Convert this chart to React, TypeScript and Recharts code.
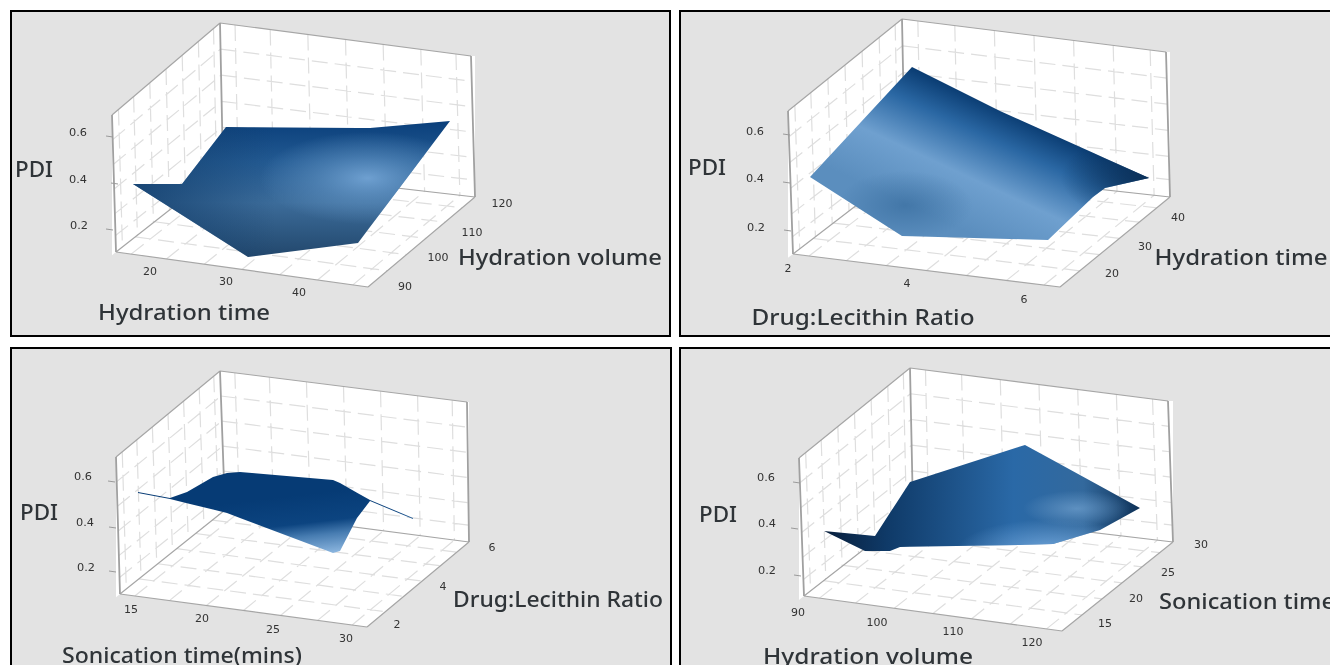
import React from "react";
import { ComposedChart, XAxis, YAxis, Area, Line, Scatter } from "recharts";

type P = [number, number];
type Lab = [string, number, number];
type Title = [string, number, number, number];

// ---------- Panel 1 : Hydration time / Hydration volume ----------
const p1Surface_top: P[] = [[133,184],[182,184],[226,127],[370,128],[450,121]];
const p1Surface_bottom: P[] = [[133,184],[248,257],[358,243],[450,121]];
const p1Corners: P[] = [[112,115],[220,23],[471,56],[116,252],[223,168],[475,197],[368,287]];
const p1Ticks: P[] = [[110,137],[115,184],[110,230]];
const p1Numbers: Lab[] = [["0.6",78,132],["0.4",78,179],["0.2",79,225],["20",150,271],["30",226,281],["40",299,292],["90",405,286],["100",438,257],["110",472,232],["120",502,203]];
const p1Titles: Title[] = [["PDI",34,168,38],["Hydration time",184,311,172],["Hydration volume",560,256,204]];

// ---------- Panel 2 : Drug:Lecithin Ratio / Hydration time ----------
const p2Surface_top: P[] = [[810,177],[912,67],[1000,111],[1149,178]];
const p2Surface_bottom: P[] = [[810,177],[902,236],[1048,240],[1093,197],[1105,188],[1149,178]];
const p2Corners: P[] = [[788,111],[902,19],[1166,52],[793,254],[905,168],[1170,197],[1060,287]];
const p2Ticks: P[] = [[787,135],[787,183],[788,231]];
const p2Numbers: Lab[] = [["0.6",755,131],["0.4",755,178],["0.2",756,227],["2",788,268],["4",907,283],["6",1024,299],["20",1112,273],["30",1145,246],["40",1178,217]];
const p2Titles: Title[] = [["PDI",707,166,38],["Drug:Lecithin Ratio",863,316,223],["Hydration time",1241,256,173]];

// ---------- Panel 3 : Sonication time / Drug:Lecithin Ratio ----------
const p3Surface_top: P[] = [[138,492],[170,498],[187,492],[213,477],[227,473],[240,472],[333,480],[340,483],[370,500],[413,518]];
const p3Surface_bottom: P[] = [[138,493],[170,499],[227,513],[333,553],[340,551],[357,518],[370,501],[413,519]];
const p3Corners: P[] = [[116,457],[220,371],[467,402],[120,594],[225,510],[469,542],[367,627]];
const p3Ticks: P[] = [[112,482],[113,528],[113,572]];
const p3Numbers: Lab[] = [["0.6",83,476],["0.4",85,522],["0.2",86,567],["15",131,609],["20",202,618],["25",273,629],["30",346,638],["2",397,624],["4",443,586],["6",492,547]];
const p3Titles: Title[] = [["PDI",39,511,38],["Sonication time(mins)",182,654,240],["Drug:Lecithin Ratio",558,598,210]];

// ---------- Panel 4 : Hydration volume / Sonication time ----------
const p4Surface_top: P[] = [[824,531],[875,536],[910,482],[1025,445],[1140,508]];
const p4Surface_bottom: P[] = [[824,531],[865,551],[890,551],[900,547],[1020,545],[1053,544],[1100,530],[1140,508]];
const p4Corners: P[] = [[799,458],[910,368],[1168,401],[804,596],[913,511],[1173,542],[1062,631]];
const p4Ticks: P[] = [[797,483],[795,529],[798,576]];
const p4Numbers: Lab[] = [["0.6",766,477],["0.4",767,523],["0.2",767,570],["90",798,612],["100",877,622],["110",953,631],["120",1032,642],["15",1105,623],["20",1136,598],["25",1168,572],["30",1201,544]];
const p4Titles: Title[] = [["PDI",718,513,38],["Hydration volume",868,655,210],["Sonication time",1247,600,176]];

const gridAcross = [0.06, 0.2, 0.35, 0.5, 0.65, 0.8, 0.94];
const gridUp = [0.18, 0.36, 0.54, 0.72, 0.88];

type Stop = [number, string, number?];
type Grad = { kind: "l" | "r"; a: number[]; stops: Stop[] };

const p1Shade: Grad[] = [
  { kind: "l", a: [0, 0, 0, 1], stops: [[0, "#0a3f7b"], [0.3, "#235a92"], [0.6, "#3c6c9a"], [1, "#22476c"]] },
  { kind: "l", a: [0, 0, 0.45, 0], stops: [[0, "#14406e", 0.85], [1, "#14406e", 0]] },
  { kind: "r", a: [0.74, 0.42, 0.34], stops: [[0, "#7aabdb", 0.85], [0.5, "#6a9ccc", 0.45], [1, "#6a9ccc", 0]] },
];
const p2Shade: Grad[] = [
  { kind: "l", a: [0.65, 0.32, 0.25, 0.76], stops: [[0, "#0a3c72"], [0.25, "#2a67a3"], [0.6, "#6fa0cf"], [1, "#5b8ebe"]] },
  { kind: "r", a: [1, 0.64, 0.26], stops: [[0, "#0c3159", 1], [1, "#0c3159", 0]] },
  { kind: "r", a: [0.28, 0.8, 0.2], stops: [[0, "#2f6496", 0.55], [1, "#2f6496", 0]] },
];
const p3Shade: Grad[] = [
  { kind: "l", a: [0.55, 0.3, 0.82, 0.98], stops: [[0, "#063b75"], [0.45, "#0c4480"], [0.66, "#477cb1"], [1, "#93bce4"]] },
];
const p4Shade: Grad[] = [
  { kind: "l", a: [0, 0, 1, 0], stops: [[0, "#081f3c"], [0.2, "#0f3a68"], [0.6, "#2a69a7"], [0.82, "#33699d"], [1, "#0e3157"]] },
  { kind: "r", a: [0.8, 0.6, 0.17], stops: [[0, "#6c9dcc", 0.75], [1, "#6c9dcc", 0]] },
  { kind: "r", a: [0.72, 1, 0.3], stops: [[0, "#74a9de", 0.9], [1, "#74a9de", 0]] },
];

// ---------- helpers ----------
const at = (c: P[], x: number) => {
  for (let i = 1; i < c.length; i++) {
    if (x <= c[i][0]) {
      const [a, b] = [c[i - 1], c[i]];
      return a[1] + ((x - a[0]) / (b[0] - a[0] || 1)) * (b[1] - a[1]);
    }
  }
  return c[c.length - 1][1];
};
const band = (top: P[], bottom: P[]) =>
  Array.from(new Set([...top, ...bottom].map((p) => p[0])))
    .sort((a, b) => a - b)
    .map((x) => ({ x, range: [at(top, x), at(bottom, x)] }));
const toRows = (...segs: P[][]) => {
  const rows: { x: number; y: number | null }[] = [];
  segs.forEach((s) => {
    s.forEach(([x, y]) => rows.push({ x, y }));
    rows.push({ x: s[s.length - 1][0], y: null });
  });
  return rows;
};
const mix = (a: P, b: P, t: number): P => [a[0] + (b[0] - a[0]) * t, a[1] + (b[1] - a[1]) * t];
const wallGrid = (a: P, b: P, c: P, d: P) => [
  ...gridAcross.map((t) => [mix(a, b, t), mix(c, d, t)] as P[]),
  ...gridUp.map((t) => [mix(a, c, t), mix(b, d, t)] as P[]),
];

const numberMark = (p: any) => {
  const t: string = p.payload.text;
  const width = t.includes(".") ? 18 : t.length * 7;
  return (
    <text x={p.cx} y={p.cy} textAnchor="middle" dominantBaseline="central" fontSize={10} fill="#333333" fontFamily="DejaVu Sans" textLength={width} lengthAdjust="spacingAndGlyphs">
      {t}
    </text>
  );
};
const titleMark = (p: any) => (
  <text x={p.cx} y={p.cy} textAnchor="middle" dominantBaseline="central" fontSize={22.5} fontWeight={500} fill="#2f3438" fontFamily="Noto Sans" textLength={p.payload.width} lengthAdjust="spacingAndGlyphs">
    {p.payload.text}
  </text>
);

type PanelProps = {
  id: string; left: number; top: number; right: number; bottom: number;
  surfTop: P[]; surfBottom: P[]; corners: P[]; ticks: P[]; numbers: Lab[]; titles: Title[]; shade: Grad[];
};

const Panel = ({ id, left, top, right, bottom, surfTop, surfBottom, corners, ticks, numbers, titles, shade }: PanelProps) => {
  const [lt, bt, rt, lb, bb, rb, fr] = corners;
  const grid = toRows(
    ...wallGrid(lt, bt, lb, bb),
    ...wallGrid(bt, rt, bb, rb),
    ...wallGrid(lb, fr, bb, rb),
  );
  const thin = toRows([lt, bt], [bt, rt], [lb, fr], [fr, rb], [lb, bb], [bb, rb]);
  const heavy = toRows([lt, lb], [bt, bb], [rt, rb]);
  const tickRows = toRows(...ticks.map(([x, y]) => [[x - 4, y - 1], [x + 3, y]] as P[]));
  const w = right - left;
  const h = bottom - top;
  return (
    <div style={{ position: "absolute", left, top, width: w, height: h, filter: "blur(0.55px)" }}>
      <ComposedChart width={w} height={h} margin={{ top: 0, right: 0, bottom: 0, left: 0 }}>
        <defs>
          {shade.map((g, i) =>
            g.kind === "l" ? (
              <linearGradient key={i} id={`${id}-g${i}`} x1={g.a[0]} y1={g.a[1]} x2={g.a[2]} y2={g.a[3]}>
                {g.stops.map(([o, c, op], j) => <stop key={j} offset={o} stopColor={c} stopOpacity={op ?? 1} />)}
              </linearGradient>
            ) : (
              <radialGradient key={i} id={`${id}-g${i}`} cx={g.a[0]} cy={g.a[1]} r={g.a[2]}>
                {g.stops.map(([o, c, op], j) => <stop key={j} offset={o} stopColor={c} stopOpacity={op ?? 1} />)}
              </radialGradient>
            )
          )}
        </defs>
        <XAxis hide type="number" dataKey="x" domain={[left, right]} allowDataOverflow />
        <YAxis hide type="number" reversed domain={[top, bottom]} allowDataOverflow />
        <Area zIndex={1} data={band([lt, bt], [lb, bb])} dataKey="range" type="linear" fill="#ffffff" fillOpacity={1} stroke="none" dot={false} activeDot={false} isAnimationActive={false} />
        <Area zIndex={1} data={band([bt, rt], [bb, rb])} dataKey="range" type="linear" fill="#ffffff" fillOpacity={1} stroke="none" dot={false} activeDot={false} isAnimationActive={false} />
        <Area zIndex={1} data={band([lb, bb, rb], [lb, fr, rb])} dataKey="range" type="linear" fill="#ffffff" fillOpacity={1} stroke="none" dot={false} activeDot={false} isAnimationActive={false} />
        <Line zIndex={2} data={grid} dataKey="y" type="linear" stroke="#dedede" strokeWidth={1.2} strokeDasharray="16 7" dot={false} activeDot={false} isAnimationActive={false} />
        <Line zIndex={3} data={thin} dataKey="y" type="linear" stroke="#a6a6a6" strokeWidth={1.2} dot={false} activeDot={false} isAnimationActive={false} />
        <Line zIndex={3} data={heavy} dataKey="y" type="linear" stroke="#a0a0a0" strokeWidth={1.8} dot={false} activeDot={false} isAnimationActive={false} />
        <Line zIndex={3} data={tickRows} dataKey="y" type="linear" stroke="#9a9a9a" strokeWidth={1} dot={false} activeDot={false} isAnimationActive={false} />
        {shade.map((_, i) => (
          <Area key={i} zIndex={4 + i} data={band(surfTop, surfBottom)} dataKey="range" type="linear" fill={`url(#${id}-g${i})`} fillOpacity={1} stroke="none" dot={false} activeDot={false} isAnimationActive={false} />
        ))}
        <Scatter zIndex={20} data={numbers.map(([text, x, y]) => ({ text, x, y }))} dataKey="y" shape={numberMark} isAnimationActive={false} />
        <Scatter zIndex={20} data={titles.map(([text, x, y, width]) => ({ text, x, y, width }))} dataKey="y" shape={titleMark} isAnimationActive={false} />
      </ComposedChart>
    </div>
  );
};

const Frame = ({ l, t, r, b }: { l: number; t: number; r: number; b: number }) => (
  <div style={{ position: "absolute", left: l, top: t, width: r - l - 4, height: b - t - 4, border: "2px solid #000", background: "#e3e3e3" }} />
);

export default function App() {
  return (
    <div style={{ position: "fixed", left: 0, top: 0, width: 1330, height: 665, overflow: "hidden", background: "#fff" }}>
      <Frame l={10} t={10} r={671} b={337} />
      <Frame l={679} t={10} r={1345} b={337} />
      <Frame l={10} t={347} r={672} b={680} />
      <Frame l={679} t={347} r={1345} b={680} />
      <Panel id="p1" left={12} top={12} right={669} bottom={335} surfTop={p1Surface_top} surfBottom={p1Surface_bottom} corners={p1Corners} ticks={p1Ticks} numbers={p1Numbers} titles={p1Titles} shade={p1Shade} />
      <Panel id="p2" left={681} top={12} right={1430} bottom={335} surfTop={p2Surface_top} surfBottom={p2Surface_bottom} corners={p2Corners} ticks={p2Ticks} numbers={p2Numbers} titles={p2Titles} shade={p2Shade} />
      <Panel id="p3" left={12} top={349} right={670} bottom={678} surfTop={p3Surface_top} surfBottom={p3Surface_bottom} corners={p3Corners} ticks={p3Ticks} numbers={p3Numbers} titles={p3Titles} shade={p3Shade} />
      <Panel id="p4" left={681} top={349} right={1430} bottom={678} surfTop={p4Surface_top} surfBottom={p4Surface_bottom} corners={p4Corners} ticks={p4Ticks} numbers={p4Numbers} titles={p4Titles} shade={p4Shade} />
    </div>
  );
}
